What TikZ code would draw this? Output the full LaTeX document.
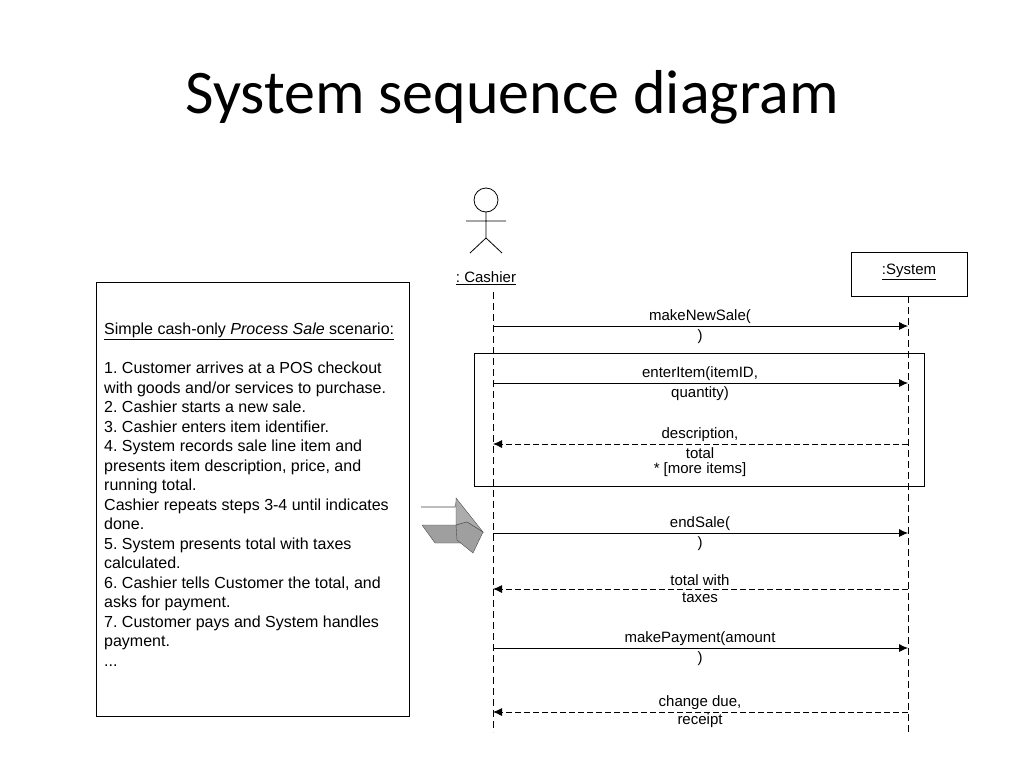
\documentclass[tikz,border=0pt]{standalone}
\usepackage{fontspec}
\setmainfont{Liberation Sans}
\newfontfamily\titlefont{Carlito}
\usetikzlibrary{arrows.meta}
\begin{document}
\frenchspacing
\begin{tikzpicture}[x=1pt,y=-1pt,
  msg/.style={draw,line width=0.8pt,-{Latex[length=9pt,width=8pt]}},
  ret/.style={msg,dashed,dash pattern=on 6pt off 3pt},
  life/.style={draw,line width=0.8pt,dash pattern=on 7pt off 4pt},
  lbl/.style={font=\fontsize{15}{17}\selectfont,inner sep=0pt},
  box/.style={draw,line width=0.9pt}]
\useasboundingbox (0,0) rectangle (1024,768);
\node[font=\titlefont\fontsize{62}{66}\selectfont] (title) at (512,97) {System sequence diagram};
% actor
\draw[line width=0.8pt] (486,200) circle (12);
\draw[line width=0.8pt] (486,212) -- (486,238) (466,221) -- (506,221) (470,253) -- (486,238) -- (502,253);
\node[lbl] (cashier) at (486,278) {\underline{: Cashier}};
\node[box,minimum width=116pt,minimum height=44pt] (sys) at (909,274) {};
\node[lbl] (syst) at (909,272) {\underline{:System}};
\coordinate (c0) at (493,292); \coordinate (c1) at (493,732);
\coordinate (s0) at (908,296); \coordinate (s1) at (908,732);
\path[life] (c0) -- (c1); \path[life] (s0) -- (s1);
% left box
\node[box,minimum width=313pt,minimum height=434pt] (scen) at (252.5,499) {};
\node[anchor=north west,align=left,inner sep=0pt,font=\fontsize{16}{19.5}\selectfont] (txt) at (104,323) {%
\underline{Simple cash-only \textit{Process Sale} scenario:}\\[19.5pt]
1. Customer arrives at a POS checkout\\
with goods and/or services to purchase.\\
2. Cashier starts a new sale.\\
3. Cashier enters item identifier.\\
4. System records sale line item and\\
presents item description, price, and\\
running total.\\
Cashier repeats steps 3-4 until indicates\\
done.\\
5. System presents total with taxes\\
calculated.\\
6. Cashier tells Customer the total, and\\
asks for payment.\\
7. Customer pays and System handles\\
payment.\\
...};
% loop box
\node[box,minimum width=450pt,minimum height=133pt] (loop) at (699,419.5) {};
% messages
\foreach \y/\a/\b in {326/{makeNewSale(}/{)}, 383/{enterItem(itemID,}/{quantity)}, 533/{endSale(}/{)}, 648/{makePayment(amount}/{)}}{
  \coordinate (l\y) at (493,\y); \coordinate (r\y) at (908,\y);
  \path[msg] (l\y) -- (r\y);
  \node[lbl] at (700,\y-9) {\a};
  \node[lbl] at (700,\y+11) {\b};
}
\foreach \y/\a/\b in {444/{description,}/{total}, 589/{total with}/{taxes}, 712/{change due,}/{receipt}}{
  \coordinate (l\y) at (493,\y); \coordinate (r\y) at (908,\y);
  \path[ret] (r\y) -- (l\y);
  \node[lbl] at (700,\y-9) {\a};
  \node[lbl] at (700,\y+9) {\b};
}
\node[lbl] (more) at (700,470) {* [more items]};
% 3D arrow
\draw[gray!80,line width=1.2pt] (421,507) -- (455,507) -- (457,499);
\fill[gray!75,draw=black!70] (422,525) -- (460,525) -- (470,543) -- (435,543) -- cycle;
\fill[gray!65,draw=black!70] (456,498) -- (483,532) -- (467,522) -- (456,525) -- cycle;
\fill[gray!75,draw=black!70] (456,525) -- (467,522) -- (483,532) -- (473,553) -- (457,540) -- cycle;
\end{tikzpicture}
\end{document}
